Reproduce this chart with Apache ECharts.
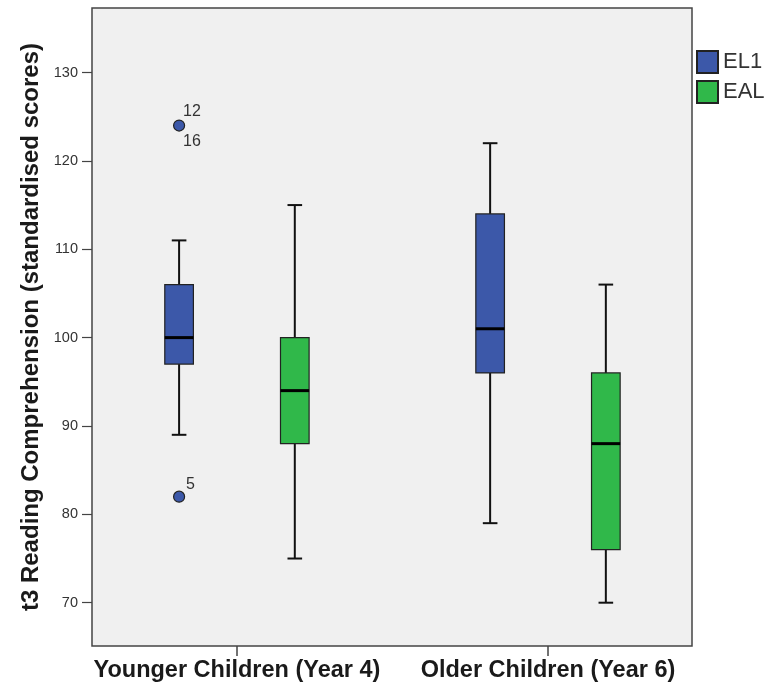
<!DOCTYPE html>
<html>
<head>
<meta charset="utf-8">
<script src="https://cdn.jsdelivr.net/npm/echarts@6/dist/echarts.min.js"></script>
<style>
  html, body {margin: 0; padding: 0; background: #fff;}
  #main {width: 778px; height: 692px;}
</style>
</head>
<body>
<div id="main"></div>
<script>
// groups on the x axis
var categories = ['Younger Children (Year 4)', 'Older Children (Year 6)'];
var seriesNames = ['EL1', 'EAL'];
// [group, min, Q1, median, Q3, max]
var el1Boxes = [
	[0, 89, 97, 100, 106, 111],
	[1, 79, 96, 101, 114, 122]
];
var ealBoxes = [
	[0, 75, 88, 94, 100, 115],
	[1, 70, 76, 88, 96, 106]
];
// [group, value, case label(s)]
var el1Outliers = [
	[0, 124, '12', '16'],
	[0, 82, '5', '']
];
var yTicks = [70, 80, 90, 100, 110, 120, 130];

var colors = ['#3c58a9', '#30b84a'];
var groupOffset = 0.186;   // in x units, each side of group center
var boxWidth = 0.092;
var capWidth = 0.047;

function boxRenderer(side){
	return function(params, api){
		var g = api.value(0);
		var unit = api.size([1, 0])[0];
		var cx = api.coord([g + side * groupOffset, 0])[0];
		var hw = boxWidth * unit / 2;
		var cw = capWidth * unit / 2;
		var yMin = api.coord([g, api.value(1)])[1];
		var yQ1 = api.coord([g, api.value(2)])[1];
		var yMed = api.coord([g, api.value(3)])[1];
		var yQ3 = api.coord([g, api.value(4)])[1];
		var yMax = api.coord([g, api.value(5)])[1];
		var line = {stroke: '#111', lineWidth: 2};
		return {
			type: 'group',
			children: [
				{type: 'line', shape: {x1: cx, y1: yMax, x2: cx, y2: yQ3}, style: line},
				{type: 'line', shape: {x1: cx, y1: yQ1, x2: cx, y2: yMin}, style: line},
				{type: 'line', shape: {x1: cx - cw, y1: yMax, x2: cx + cw, y2: yMax}, style: line},
				{type: 'line', shape: {x1: cx - cw, y1: yMin, x2: cx + cw, y2: yMin}, style: line},
				{type: 'rect', shape: {x: cx - hw, y: yQ3, width: hw * 2, height: yQ1 - yQ3},
					style: {fill: api.visual('color'), stroke: '#222', lineWidth: 1.2}},
				{type: 'line', shape: {x1: cx - hw, y1: yMed, x2: cx + hw, y2: yMed},
					style: {stroke: '#000', lineWidth: 3}}
			]
		};
	};
}

var chart = echarts.init(document.getElementById('main'));
chart.setOption({
	backgroundColor: '#fff',
	animation: false,
	textStyle: {fontFamily: 'Liberation Sans, Arial, sans-serif'},
	grid: {
		left: 92, right: 86, top: 8, bottom: 46,
		show: true,
		backgroundColor: '#f0f0f0',
		borderColor: '#444',
		borderWidth: 1.5
	},
	legend: {
		data: seriesNames,
		orient: 'vertical',
		left: 696,
		top: 50,
		padding: 0,
		itemWidth: 21,
		itemHeight: 22,
		itemGap: 6,
		icon: 'rect',
		textStyle: {fontSize: 22, color: '#333'}
	},
	xAxis: {
		type: 'value',
		min: -0.466,
		max: 1.463,
		splitLine: {show: false},
		axisLine: {show: false, onZero: false},
		axisTick: {show: true, length: 10, customValues: [0, 1], lineStyle: {color: '#444', width: 1.5}},
		axisLabel: {
			customValues: [0, 1],
			margin: 13,
			fontSize: 23.5,
			fontWeight: 'bold',
			color: '#1a1a1a',
			formatter: function(v){ return categories[Math.round(v)]; }
		}
	},
	yAxis: {
		type: 'value',
		min: 65.1,
		max: 137.3,
		name: 't3 Reading Comprehension (standardised scores)',
		nameLocation: 'middle',
		nameGap: 49,
		nameTextStyle: {fontSize: 24, fontWeight: 'bold', color: '#1a1a1a'},
		splitLine: {show: false},
		axisLine: {show: false, onZero: false},
		axisTick: {show: true, length: 10, customValues: yTicks, lineStyle: {color: '#444', width: 1.2}},
		axisLabel: {customValues: yTicks, margin: 14, fontSize: 14.5, color: '#333'}
	},
	series: [
		{
			name: 'EL1',
			type: 'custom',
			renderItem: boxRenderer(-1),
			itemStyle: {color: colors[0], borderColor: '#222', borderWidth: 1.2},
			encode: {x: 0, y: [1, 2, 3, 4, 5]},
			data: el1Boxes,
			z: 2
		},
		{
			name: 'EAL',
			type: 'custom',
			renderItem: boxRenderer(1),
			itemStyle: {color: colors[1], borderColor: '#222', borderWidth: 1.2},
			encode: {x: 0, y: [1, 2, 3, 4, 5]},
			data: ealBoxes,
			z: 2
		},
		{
			name: 'EL1',
			type: 'custom',
			renderItem: function(params, api){
				var g = api.value(0);
				var p = api.coord([g - groupOffset, api.value(1)]);
				var top = el1Outliers[params.dataIndex][2];
				var bottom = el1Outliers[params.dataIndex][3];
				var txt = {fill: '#333', fontSize: 16, fontFamily: 'Liberation Sans, Arial, sans-serif'};
				var kids = [
					{type: 'circle', shape: {cx: p[0], cy: p[1], r: 5.5},
						style: {fill: colors[0], stroke: '#222', lineWidth: 1.2}},
					{type: 'text', x: p[0] + (bottom ? 4 : 7), y: p[1] - (bottom ? 14 : 12),
						style: Object.assign({text: top, verticalAlign: 'middle'}, txt)}
				];
				if (bottom) {
					kids.push({type: 'text', x: p[0] + 4, y: p[1] + 16,
						style: Object.assign({text: bottom, verticalAlign: 'middle'}, txt)});
				}
				return {type: 'group', children: kids};
			},
			encode: {x: 0, y: 1},
			data: el1Outliers,
			z: 3
		}
	]
});
</script>
</body>
</html>
